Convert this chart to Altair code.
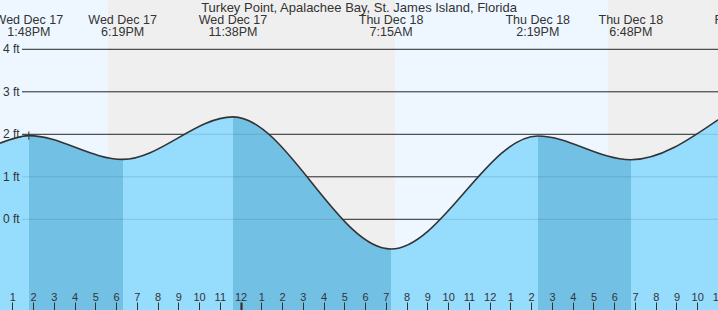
import altair as alt
import pandas as pd

# ---- data (hours since Wed Dec 17 00:00, heights in feet) ----
T_START = 12.41
T_END = 47.0
Y_MIN = -2.134
Y_MAX = 5.16

ext_hours = [13.8, 18.317, 23.633, 31.25, 38.317, 42.8]
ext_heights = [1.97, 1.41, 2.41, -0.70, 1.96, 1.40]
ext_kind = ["H", "L", "H", "L", "H", "L"]

edge_hours = [12.41, 47.0]
edge_heights = [1.79, 2.34]

label_hours = [13.8, 18.317, 23.633, 31.25, 38.317, 42.8, 48.22]
label_day = ["Wed Dec 17", "Wed Dec 17", "Wed Dec 17", "Thu Dec 18",
             "Thu Dec 18", "Thu Dec 18", "Fri Dec 19"]
label_time = ["1:48PM", "6:19PM", "11:38PM", "7:15AM", "2:19PM", "6:48PM", "12:09AM"]

sun_bounds = [12.41, 17.60, 31.44, 41.70, 47.0]
sun_kind = ["day", "night", "day", "night"]

grid_ft = [0, 1, 2, 3, 4]
grid_labels = ["0 ft", "1 ft", "2 ft", "3 ft", "4 ft"]

hour_ticks = list(range(13, 48))

marker_hours = [13.8]
marker_heights = [1.97]

TITLE = "Turkey Point, Apalachee Bay, St. James Island, Florida"

# ---- styles ----
DAY = "#eef7ff"
NIGHT = "#efefef"
LIGHT = "#96dcfd"
DARK = "#73c0e5"
INK = "#333333"
FONT = "Liberation Sans"

# ---- tables ----
curve = pd.DataFrame({
    "hour": [edge_hours[0]] + ext_hours + [edge_hours[1]],
    "ft": [edge_heights[0]] + ext_heights + [edge_heights[1]],
}).sort_values("hour")

sun = pd.DataFrame({
    "start": sun_bounds[:-1],
    "end": sun_bounds[1:],
    "kind": sun_kind,
})

grid = pd.DataFrame({"ft": grid_ft, "label": grid_labels})
labels = pd.DataFrame({
    "hour": label_hours,
    "text": [d + "\n" + t for d, t in zip(label_day, label_time)],
})
marker = pd.DataFrame({"hour": marker_hours, "ft": marker_heights})
title_df = pd.DataFrame({"t": [TITLE]})

# gradient for falling-tide shading (high -> following low)
c0, c1 = curve["hour"].min(), curve["hour"].max()
def off(h):
    return max(0.0, min(1.0, (h - c0) / (c1 - c0)))

stops = [{"offset": 0, "color": LIGHT}]
for i, k in enumerate(ext_kind):
    if k == "H" and i + 1 < len(ext_hours):
        a, b = off(ext_hours[i]), off(ext_hours[i + 1])
        stops += [{"offset": a, "color": LIGHT}, {"offset": a, "color": DARK},
                  {"offset": b, "color": DARK}, {"offset": b, "color": LIGHT}]
stops.append({"offset": 1, "color": LIGHT})
gradient = {"gradient": "linear", "x1": 0, "y1": 0, "x2": 1, "y2": 0, "stops": stops}

xscale = alt.Scale(domain=[T_START, T_END], nice=False, zero=False)
yscale = alt.Scale(domain=[Y_MIN, Y_MAX], nice=False, zero=False)

xaxis = alt.Axis(
    values=hour_ticks,
    labelExpr="datum.value % 12 === 0 ? '12' : '' + (datum.value % 12)",
    orient="bottom", offset=-8, tickSize=8, labelPadding=-19,
    domain=False, grid=False, title=None, labelFlush=False, labelOverlap=False,
    tickColor=INK, labelColor=INK, labelFontSize=11, labelFont=FONT,
    labelBaseline="top", zindex=1,
    tickWidth={"condition": {"test": "datum.value % 24 === 0", "value": 2.2}, "value": 1},
)

def X(field):
    return alt.X(field, type="quantitative", scale=xscale, axis=xaxis)

def Y(field):
    return alt.Y(field, type="quantitative", scale=yscale, axis=None)

bg = alt.Chart(sun).mark_rect().encode(
    x=X("start"), x2="end",
    color=alt.Color("kind:N", scale=alt.Scale(domain=["day", "night"], range=[DAY, NIGHT]), legend=None),
)

grid_rules = alt.Chart(grid).mark_rule(color=INK, strokeWidth=1).encode(
    y=Y("ft"), x=alt.value(22), x2=alt.value(718)
)

water = alt.Chart(curve).mark_area(interpolate="monotone", fill=gradient, fillOpacity=1).encode(
    x=X("hour"), y=Y("ft"), y2=alt.datum(Y_MIN)
)

grid_faint = alt.Chart(grid).mark_rule(color="#000000", opacity=0.12, strokeWidth=1).encode(
    y=Y("ft"), x=alt.value(22), x2=alt.value(718)
)

line = alt.Chart(curve).mark_line(interpolate="monotone", color=INK, strokeWidth=1.6).encode(
    x=X("hour"), y=Y("ft")
)

cross = alt.Chart(marker).mark_point(
    shape="M-1,0L1,0M0,-1L0,1", size=70, filled=False, stroke=INK, strokeWidth=1, opacity=1
).encode(x=X("hour"), y=Y("ft"))

ylabels = alt.Chart(grid).mark_text(
    align="left", baseline="middle", font=FONT, fontSize=12, color=INK
).encode(y=Y("ft"), x=alt.value(3), text="label:N")

toplabels = alt.Chart(labels).mark_text(
    align="center", baseline="alphabetic", font=FONT, fontSize=12.5, color=INK,
    lineBreak="\n", lineHeight=12
).encode(x=X("hour"), y=alt.value(24), text="text:N")

title = alt.Chart(title_df).mark_text(
    align="center", baseline="alphabetic", font=FONT, fontSize=13, color=INK
).encode(x=alt.value(359), y=alt.value(12), text="t:N")

chart = alt.layer(
    bg, grid_rules, water, grid_faint, line, cross, ylabels, toplabels, title
).properties(
    width=718, height=310,
    autosize=alt.AutoSizeParams(type="none"),
    padding=0, background="white",
).configure_view(stroke=None)

chart.save("out.html", embed_options={"renderer": "svg", "actions": False})
